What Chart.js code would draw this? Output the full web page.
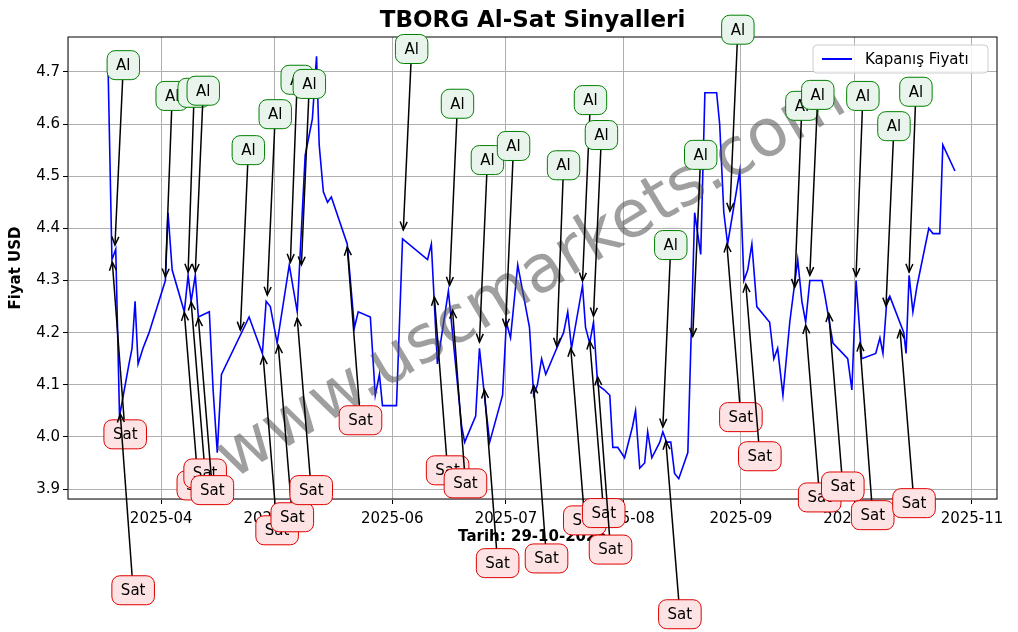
<!DOCTYPE html>
<html><head><meta charset="utf-8">
<script src="https://cdn.jsdelivr.net/npm/chart.js@4/dist/chart.umd.min.js"></script>
<style>body{margin:0;background:#fff}#w{width:1018px;height:632px}</style>
</head><body><div id="w"><canvas id="c"></canvas></div>
<script>
// Days since 2025-04-01
const dayOffsets=[-14,-13,-12,-11,-10,-8.5,-7.7,-6.9,-6.1,-4.8,-3.2,1.1,1.8,2.9,6.1,7.1,7.9,9.0,9.8,12.7,13.7,14.8,15.9,23.2,26.7,27.7,28.8,30.6,33.8,35.9,38.0,39.9,41.0,41.7,42.8,43.9,44.9,49.1,51.0,52.0,55.2,56.5,57.6,58.4,58.9,62.1,63.7,70.3,71.3,72.9,75.8,79.3,80.1,83.0,84.0,85.6,86.7,90.1,91.1,92.2,94.1,97.2,98.3,99.3,100.4,101.5,104.4,106.2,107.3,108.3,111.2,112.0,113.1,114.1,115.2,117.0,118.4,119.2,120.5,122.3,124.4,125.2,126.3,127.6,128.4,129.5,131.6,132.4,133.4,134.5,135.5,136.6,139.0,140.8,142.4,143.5,146.6,147.4,148.5,149.5,152.7,153.8,154.8,155.9,157.2,160.6,161.7,162.7,164.1,165.9,168.0,169.1,170.1,171.2,174.4,175.2,177.3,181.2,182.3,183.4,184.9,188.6,189.7,190.5,191.5,192.3,196.0,196.6,197.4,198.4,199.5,202.6,203.7,205.5,206.3,209.5];
const closePrices=[4.70,4.34,4.36,4.04,4.08,4.14,4.17,4.26,4.14,4.17,4.20,4.30,4.43,4.32,4.24,4.31,4.26,4.31,4.23,4.24,4.09,3.97,4.12,4.23,4.16,4.26,4.25,4.18,4.33,4.24,4.54,4.61,4.73,4.56,4.47,4.45,4.46,4.37,4.21,4.24,4.23,4.08,4.12,4.06,4.06,4.06,4.38,4.34,4.37,4.14,4.28,4.02,3.99,4.04,4.17,4.06,3.99,4.08,4.22,4.19,4.33,4.21,4.08,4.10,4.15,4.12,4.17,4.20,4.24,4.17,4.29,4.21,4.18,4.22,4.10,4.09,4.08,3.98,3.98,3.96,4.02,4.05,3.94,3.95,4.01,3.96,3.99,4.01,3.99,3.99,3.93,3.92,3.97,4.43,4.35,4.66,4.66,4.60,4.43,4.37,4.51,4.30,4.32,4.37,4.25,4.22,4.15,4.17,4.08,4.22,4.34,4.26,4.22,4.30,4.30,4.27,4.18,4.15,4.09,4.30,4.15,4.16,4.19,4.16,4.26,4.27,4.20,4.16,4.31,4.24,4.29,4.40,4.39,4.39,4.56,4.51];
const monthTicks=[0,30,61,91,122,153,183,214];
const monthLabels=["2025-04","2025-05","2025-06","2025-07","2025-08","2025-09","2025-10","2025-11"];
const yTicks=[3.9,4.0,4.1,4.2,4.3,4.4,4.5,4.6,4.7];
// Buy signals: [tipDay, tipPrice, labelDay, labelPrice]
const buySignals=[[-12.2,4.368,-10.0,4.713],[1.1,4.307,2.9,4.654],[7.1,4.316,8.7,4.660],[9.0,4.316,11.1,4.664],[20.9,4.205,23.0,4.550],[28.0,4.272,30.1,4.619],[34.1,4.335,35.9,4.685],[37.0,4.330,39.1,4.677],[63.9,4.397,66.1,4.744],[76.1,4.291,78.2,4.639],[84.0,4.182,86.1,4.531],[90.9,4.211,93.0,4.558],[104.4,4.174,106.2,4.521],[111.2,4.299,113.3,4.646],[114.1,4.232,116.2,4.579],[132.4,4.019,134.5,4.368],[140.3,4.193,142.4,4.541],[150.1,4.433,152.2,4.781],[167.2,4.287,169.1,4.635],[171.2,4.310,173.3,4.656],[183.4,4.308,185.2,4.654],[191.3,4.251,193.4,4.596],[197.4,4.316,199.2,4.662]];
const sellSignals=[[-12.9,4.335,-9.5,4.005],[-10.8,4.044,-7.4,3.706],[6.1,4.239,9.8,3.907],[7.9,4.259,11.6,3.930],[9.8,4.228,13.5,3.898],[26.9,4.155,30.6,3.821],[30.9,4.176,34.6,3.846],[35.9,4.228,39.6,3.898],[49.1,4.364,52.6,4.032],[72.1,4.268,75.6,3.936],[76.9,4.243,80.3,3.911],[85.3,4.090,88.8,3.758],[98.3,4.099,101.7,3.767],[108.1,4.170,111.8,3.840],[113.1,4.184,116.8,3.854],[115.2,4.115,118.6,3.784],[133.2,3.992,136.9,3.660],[149.3,4.370,153.0,4.038],[154.3,4.293,158.0,3.963],[170.1,4.214,173.8,3.884],[176.2,4.237,179.9,3.905],[184.4,4.180,187.8,3.850],[195.0,4.205,198.7,3.873]];

const F='"DejaVu Sans", sans-serif';
function rr(ctx,x,y,w,h,r){ctx.beginPath();ctx.moveTo(x+r,y);ctx.arcTo(x+w,y,x+w,y+h,r);ctx.arcTo(x+w,y+h,x,y+h,r);ctx.arcTo(x,y+h,x,y,r);ctx.arcTo(x,y,x+w,y,r);ctx.closePath();}
const deco={id:'deco',
 afterDatasetsDraw(ch){
  const c=ch.ctx,a=ch.chartArea;
  c.save();c.strokeStyle='#000';c.lineWidth=1;c.strokeRect(a.left,a.top,a.right-a.left,a.bottom-a.top);c.restore();
 },
 afterDraw(ch){
  const c=ch.ctx,xs=ch.scales.x,ys=ch.scales.y,a=ch.chartArea;
  c.save();c.translate(532,280);c.rotate(-31*Math.PI/180);c.font='66px '+F;c.fillStyle='rgba(80,80,80,0.55)';c.textAlign='center';c.textBaseline='middle';c.fillText('www.uscmarkets.com',0,0);c.restore();
  function draw(list,txt,fill,stroke){
   list.forEach(s=>{
    const tx=xs.getPixelForValue(s[0]),ty=ys.getPixelForValue(s[1]),lx=xs.getPixelForValue(s[2]),ly=ys.getPixelForValue(s[3]);
    c.save();c.strokeStyle='#000';c.lineWidth=1.5;c.beginPath();c.moveTo(lx,ly);c.lineTo(tx,ty);c.stroke();
    const ang=Math.atan2(ty-ly,tx-lx);c.beginPath();
    c.moveTo(tx-9*Math.cos(ang-0.4),ty-9*Math.sin(ang-0.4));c.lineTo(tx,ty);c.lineTo(tx-9*Math.cos(ang+0.4),ty-9*Math.sin(ang+0.4));c.stroke();
    c.font='15px '+F;const w=c.measureText(txt).width+18,h=29;
    rr(c,lx-w/2,ly-h/2,w,h,8);c.fillStyle=fill;c.fill();c.strokeStyle=stroke;c.lineWidth=1;c.stroke();
    c.fillStyle='#000';c.textAlign='center';c.textBaseline='middle';c.fillText(txt,lx,ly+1);c.restore();
   });
  }
  c.save();c.font='bold 15px '+F;c.fillStyle='#000';c.textAlign='center';c.textBaseline='middle';c.fillText('Tarih: 29-10-2025',(a.left+a.right)/2,537);
  c.translate(16,(a.top+a.bottom)/2);c.rotate(-Math.PI/2);c.fillText('Fiyat USD',0,0);c.restore();
  draw(sellSignals,'Sat','#fde3e3','#e00000');
  draw(buySignals,'Al','#e9f5ec','#008000');
  c.save();c.font='bold 23px '+F;c.fillStyle='#000';c.textAlign='center';c.textBaseline='middle';c.fillText('TBORG Al-Sat Sinyalleri',(a.left+a.right)/2,21);
  rr(c,813,45,175,28,4);c.fillStyle='rgba(255,255,255,0.85)';c.fill();c.strokeStyle='#ccc';c.stroke();
  c.strokeStyle='#0000ff';c.lineWidth=2;c.beginPath();c.moveTo(822,59);c.lineTo(852,59);c.stroke();
  c.fillStyle='#000';c.font='15px '+F;c.textAlign='left';c.fillText('Kapanış Fiyatı',865,60);c.restore();
 }};
new Chart(document.getElementById('c'),{
 type:'line',
 data:{datasets:[{data:dayOffsets.map((d,i)=>({x:d,y:closePrices[i]})),borderColor:'#0000ff',borderWidth:1.6,pointRadius:0,tension:0}]},
 options:{responsive:true,maintainAspectRatio:false,animation:false,devicePixelRatio:1,
  layout:{padding:{top:37,right:21,left:0,bottom:0}},
  plugins:{legend:{display:false},tooltip:{enabled:false}},
  scales:{
   x:{type:'linear',min:-24.6,max:220.6,
    afterBuildTicks:s=>{s.ticks=monthTicks.map(v=>({value:v}));},
    afterFit:s=>{s.height=133;},
    ticks:{autoSkip:false,maxRotation:0,callback:(v)=>monthLabels[monthTicks.indexOf(v)]||'',font:{size:15,family:F},color:'#000',padding:6},
    grid:{color:'#b0b0b0',tickColor:'#000',tickLength:5}},
   y:{min:3.881,max:4.767,
    afterBuildTicks:s=>{s.ticks=yTicks.map(v=>({value:v}));},
    afterFit:s=>{s.width=68;},
    ticks:{callback:v=>v.toFixed(1),font:{size:15,family:F},color:'#000'},
    grid:{color:'#b0b0b0',tickColor:'#000',tickLength:5}}
  }},
 plugins:[deco]});
</script></body></html>
